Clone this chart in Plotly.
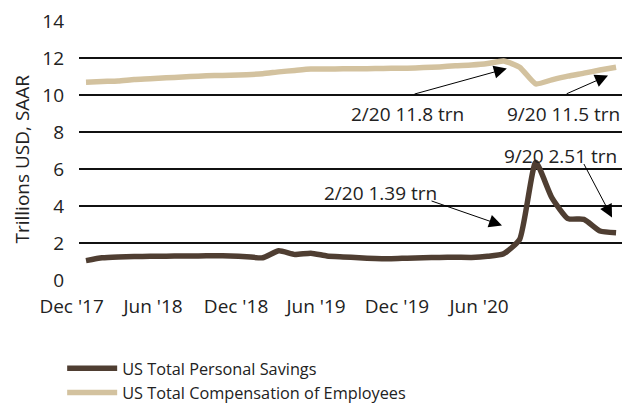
import plotly.graph_objects as go

months = ["Dec 2017", "Jan 2018", "Feb 2018", "Mar 2018", "Apr 2018", "May 2018", "Jun 2018",
          "Jul 2018", "Aug 2018", "Sep 2018", "Oct 2018", "Nov 2018", "Dec 2018", "Jan 2019",
          "Feb 2019", "Mar 2019", "Apr 2019", "May 2019", "Jun 2019", "Jul 2019", "Aug 2019",
          "Sep 2019", "Oct 2019", "Nov 2019", "Dec 2019", "Jan 2020", "Feb 2020", "Mar 2020",
          "Apr 2020", "May 2020", "Jun 2020", "Jul 2020", "Aug 2020", "Sep 2020"]

savings = [1.05, 1.20, 1.25, 1.27, 1.28, 1.29, 1.30, 1.30, 1.31, 1.30, 1.26, 1.20,
           1.58, 1.38, 1.45, 1.30, 1.25, 1.20, 1.16, 1.15, 1.18, 1.20, 1.22, 1.23,
           1.22, 1.28, 1.42, 2.20, 6.37, 4.45, 3.32, 3.28, 2.65, 2.55]

compensation = [10.69, 10.73, 10.76, 10.84, 10.88, 10.93, 10.97, 11.02, 11.05, 11.07, 11.10, 11.15,
                11.25, 11.33, 11.40, 11.40, 11.42, 11.42, 11.43, 11.44, 11.45, 11.48, 11.52, 11.58,
                11.62, 11.70, 11.84, 11.50, 10.60, 10.82, 11.02, 11.18, 11.35, 11.50]

tick_labels = ["Dec '17", "Jun '18", "Dec '18", "Jun '19", "Dec '19", "Jun '20"]
tick_pos = [-0.4, 4.67, 9.84, 14.82, 19.86, 24.97]

x = list(range(len(months)))

FONT = "Open Sans"
DARK = "#4f3e32"
TAN = "#d3c29f"
TXT = "#222222"

fig = go.Figure()
fig.add_trace(go.Scatter(x=x, y=savings, mode="lines", name="US Total Personal Savings",
                         line=dict(color=DARK, width=5.5, shape="spline", smoothing=0.5),
                         text=months, hovertemplate="%{text}: %{y}<extra></extra>"))
fig.add_trace(go.Scatter(x=x, y=compensation, mode="lines", name="US Total Compensation of Employees",
                         line=dict(color=TAN, width=5.5, shape="spline", smoothing=0.5),
                         text=months, hovertemplate="%{text}: %{y}<extra></extra>"))

texts = [
    dict(x=19.99, y=9.0, text="2/20 11.8 trn", xanchor="center"),
    dict(x=26.09, y=9.0, text="9/20 11.5 trn", xanchor="left"),
    dict(x=14.7, y=4.7, text="2/20 1.39 trn", xanchor="left"),
    dict(x=25.9, y=6.73, text="9/20 2.51 trn", xanchor="left"),
]
for t in texts:
    fig.add_annotation(x=t["x"], y=t["y"], text=t["text"], xanchor=t["xanchor"], yanchor="middle",
                       showarrow=False, font=dict(family=FONT, size=19, color=TXT))

arrows = [
    dict(x=26.2, y=11.43, ax=20.36, ay=10.03),
    dict(x=32.5, y=11.05, ax=29.83, ay=10.03),
    dict(x=25.9, y=2.95, ax=21.42, ay=4.3),
    dict(x=32.75, y=3.38, ax=30.95, ay=6.35),
]
for a in arrows:
    fig.add_annotation(x=a["x"], y=a["y"], ax=a["ax"], ay=a["ay"], axref="x", ayref="y",
                       text="", showarrow=True, arrowhead=2, arrowsize=2.6, arrowwidth=1,
                       arrowcolor="#000000")

fig.add_annotation(x=-0.105, y=0.469, xref="paper", yref="paper", text="Trillions USD, SAAR",
                   textangle=-90, showarrow=False, xanchor="center", yanchor="middle",
                   font=dict(family=FONT, size=19, color=TXT))

fig.update_layout(
    width=622, height=418,
    margin=dict(l=79, r=0, t=21, b=138, autoexpand=False),
    paper_bgcolor="white", plot_bgcolor="white",
    font=dict(family=FONT, size=19, color=TXT),
    showlegend=True,
    legend=dict(x=-0.031, y=-0.275, xanchor="left", yanchor="top", orientation="v",
                font=dict(family=FONT, size=16.3, color=TXT),
                itemwidth=50, tracegroupgap=0, borderwidth=0, bgcolor="rgba(0,0,0,0)"),
    xaxis=dict(range=[-0.436, 33.37], tickmode="array", tickvals=tick_pos, ticktext=tick_labels,
               showgrid=False, zeroline=False, showline=False, ticks="", automargin=False,
               ticklabelstandoff=13, ticklabelshift=-8,
               tickfont=dict(family=FONT, size=19, color=TXT)),
    yaxis=dict(range=[0, 14], dtick=2, tick0=0, showgrid=True, gridcolor="#111111", gridwidth=1.5,
               zeroline=False, showline=False, ticks="", ticklabelstandoff=14, automargin=False,
               tickfont=dict(family=FONT, size=19, color=TXT)),
)

fig.write_html("out.html", config={"displayModeBar": False},
               post_script="document.body.style.margin='0px';document.body.style.overflow='hidden';")
